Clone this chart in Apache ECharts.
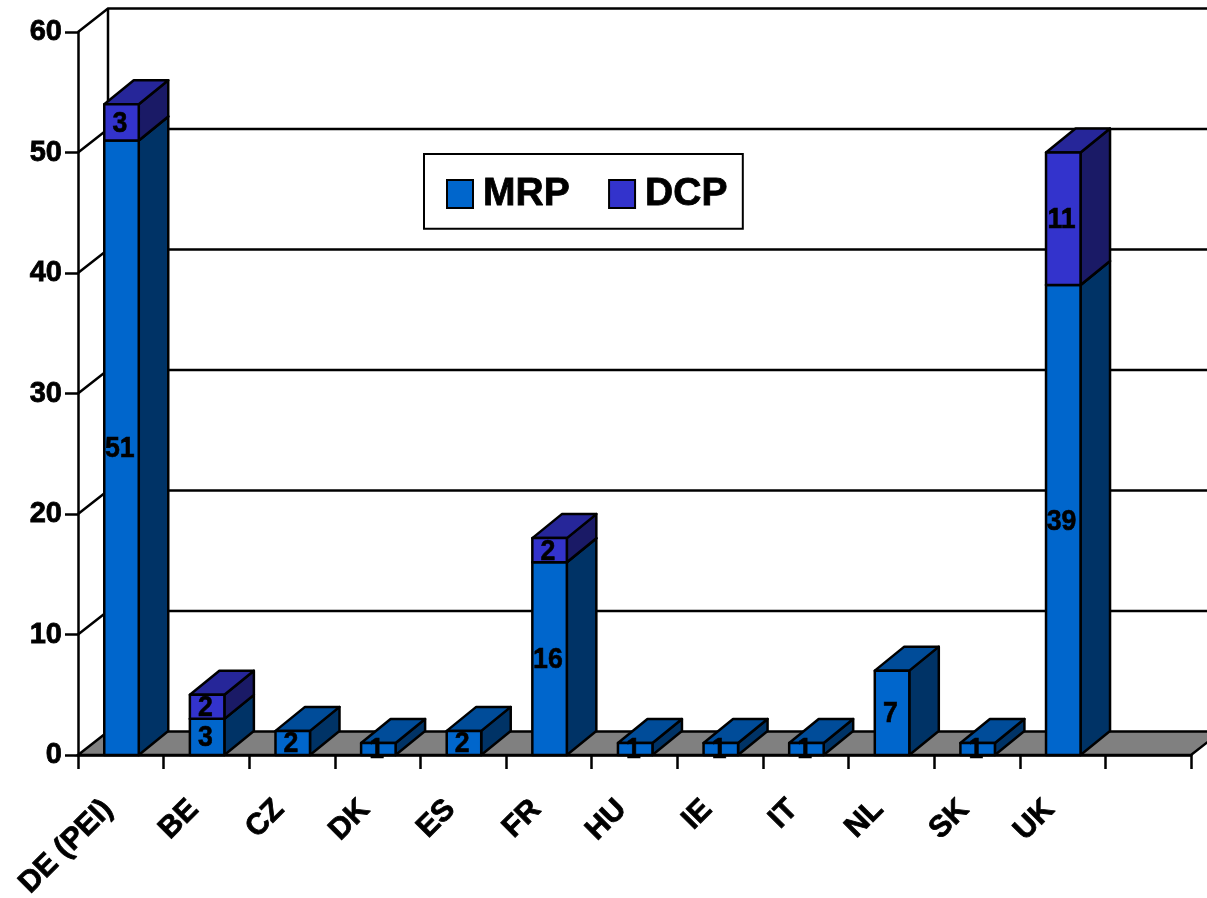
<!DOCTYPE html>
<html>
<head>
<meta charset="utf-8">
<style>html,body{margin:0;padding:0;background:#fff}#c{width:1207px;height:898px}</style>
<script src="https://cdn.jsdelivr.net/npm/echarts@6/dist/echarts.min.js"></script>
</head>
<body>
<div id="c"></div>
<script>
const categories = ['DE (PEI)','BE','CZ','DK','ES','FR','HU','IE','IT','NL','SK','UK',''];
const mrpValues = [51,3,2,1,2,16,1,1,1,7,1,39,null];
const dcpValues = [3,2,null,null,null,2,null,null,null,null,null,11,null];
const wallTicks = [0,10,20,30,40,50,60];

const DX = 29.5, DY = -24, WALL_DX = 30, WALL_DY = -23.5;
const FONT = '"Liberation Sans", Arial, sans-serif';
const LW = 2.5;
const MRP = {front:'#0066CC', top:'#004C99', side:'#003366'};
const DCP = {front:'#3333CC', top:'#262699', side:'#1A1A66'};

function barRender(palette){
  return function(params, api){
    const i = api.value(0), lo = api.value(1), hi = api.value(2);
    const a = api.coord([i, lo]), b = api.coord([i, hi]);
    const w = api.size([1,0])[0] * 0.403;
    const cx = a[0]+0.7;
    const l = cx-w/2, r = cx+w/2, y0 = a[1], y1 = b[1];
    const line = {stroke:'#000', lineWidth:LW, lineJoin:'round'};
    const poly = (pts, fill)=>({type:'polygon', shape:{points:pts}, style:Object.assign({fill}, line)});
    return {type:'group', children:[
      poly([[r,y0],[r+DX,y0+DY],[r+DX,y1+DY],[r,y1]], palette.side),
      poly([[l,y1],[l+DX,y1+DY],[r+DX,y1+DY],[r,y1]], palette.top),
      poly([[l,y0],[r,y0],[r,y1],[l,y1]], palette.front),
      {type:'text', x:a[0]-1, y:(y0+y1)/2+1.5, scaleX:0.92, style:{text:String(api.value(3)), fill:'#000',
        stroke:'#000', lineWidth:0.6,
        font:'bold 29px '+FONT, align:'center', verticalAlign:'middle'}}
    ]};
  };
}
function wallRender(params, api){
  const v = api.value(0), p = api.coord([0, v]);
  const cs = params.coordSys, x0 = cs.x, x1 = cs.x+cs.width, y = p[1];
  const line = {stroke:'#000', lineWidth:LW, fill:null};
  const children = [];
  if(v===0){
    children.push({type:'polygon', shape:{points:[[x0,y],[x0+WALL_DX,y+WALL_DY],[x1+WALL_DX,y+WALL_DY],[x1,y]]},
      style:{fill:'#808080', stroke:'#000', lineWidth:LW}});
    children.push({type:'line', shape:{x1:x0+WALL_DX,y1:y+WALL_DY,x2:x0+WALL_DX,y2:cs.y+WALL_DY}, style:line});
  } else {
    children.push({type:'polyline', shape:{points:[[x0,y],[x0+WALL_DX,y+WALL_DY],[x1+WALL_DX,y+WALL_DY]]}, style:line});
  }
  return {type:'group', children};
}

const stacked = (vals, bases)=>vals.map((v,i)=>v==null?null:[i,bases?bases[i]:0,(bases?bases[i]:0)+v,v]).filter(Boolean);

const heavy = {textBorderColor:'#000', textBorderWidth:0.8};
const chart = echarts.init(document.getElementById('c'), null, {renderer:'canvas'});
chart.setOption({
  animation:false,
  backgroundColor:'#fff',
  grid:{left:78, right:16, top:32, bottom:143, outerBoundsMode:'none'},
  legend:{
    data:['MRP','DCP'], left:424, top:154, orient:'horizontal',
    padding:[20,15,15,22], backgroundColor:'#fff', borderColor:'#000', borderWidth:2,
    itemWidth:26, itemHeight:28, itemGap:38, icon:'rect',
    itemStyle:{borderColor:'#000', borderWidth:2},
    textStyle:Object.assign({fontFamily:FONT, fontWeight:'bold', fontSize:39, color:'#000', padding:[4,0,0,5]}, heavy),
    selectedMode:false
  },
  xAxis:{
    type:'category', data:categories, boundaryGap:true,
    axisLine:{lineStyle:{color:'#000',width:LW}},
    axisTick:{show:true, length:14, lineStyle:{color:'#000',width:LW}, alignWithLabel:false},
    axisLabel:Object.assign({rotate:45, interval:0, margin:37, padding:[0,18,0,0], color:'#000', fontFamily:FONT, fontWeight:'bold', fontSize:30}, heavy),
    splitLine:{show:false}
  },
  yAxis:{
    type:'value', min:0, max:60, interval:10,
    axisLine:{show:true, lineStyle:{color:'#000',width:LW}},
    axisTick:{show:true, length:13, lineStyle:{color:'#000',width:LW}},
    axisLabel:Object.assign({margin:16, padding:[4,0,0,0], color:'#000', fontFamily:FONT, fontWeight:'bold', fontSize:29}, heavy),
    splitLine:{show:false}
  },
  series:[
    {type:'custom', name:'wall', silent:true, z:1, clip:false, renderItem:wallRender,
      data:wallTicks.map(v=>[v]), encode:{y:0}},
    {type:'custom', name:'MRP', z:3, clip:false, renderItem:barRender(MRP),
      itemStyle:{color:MRP.front}, data:stacked(mrpValues), encode:{x:0,y:[1,2]}},
    {type:'custom', name:'DCP', z:4, clip:false, renderItem:barRender(DCP),
      itemStyle:{color:DCP.front}, data:stacked(dcpValues, mrpValues), encode:{x:0,y:[1,2]}}
  ]
});
</script>
</body>
</html>
